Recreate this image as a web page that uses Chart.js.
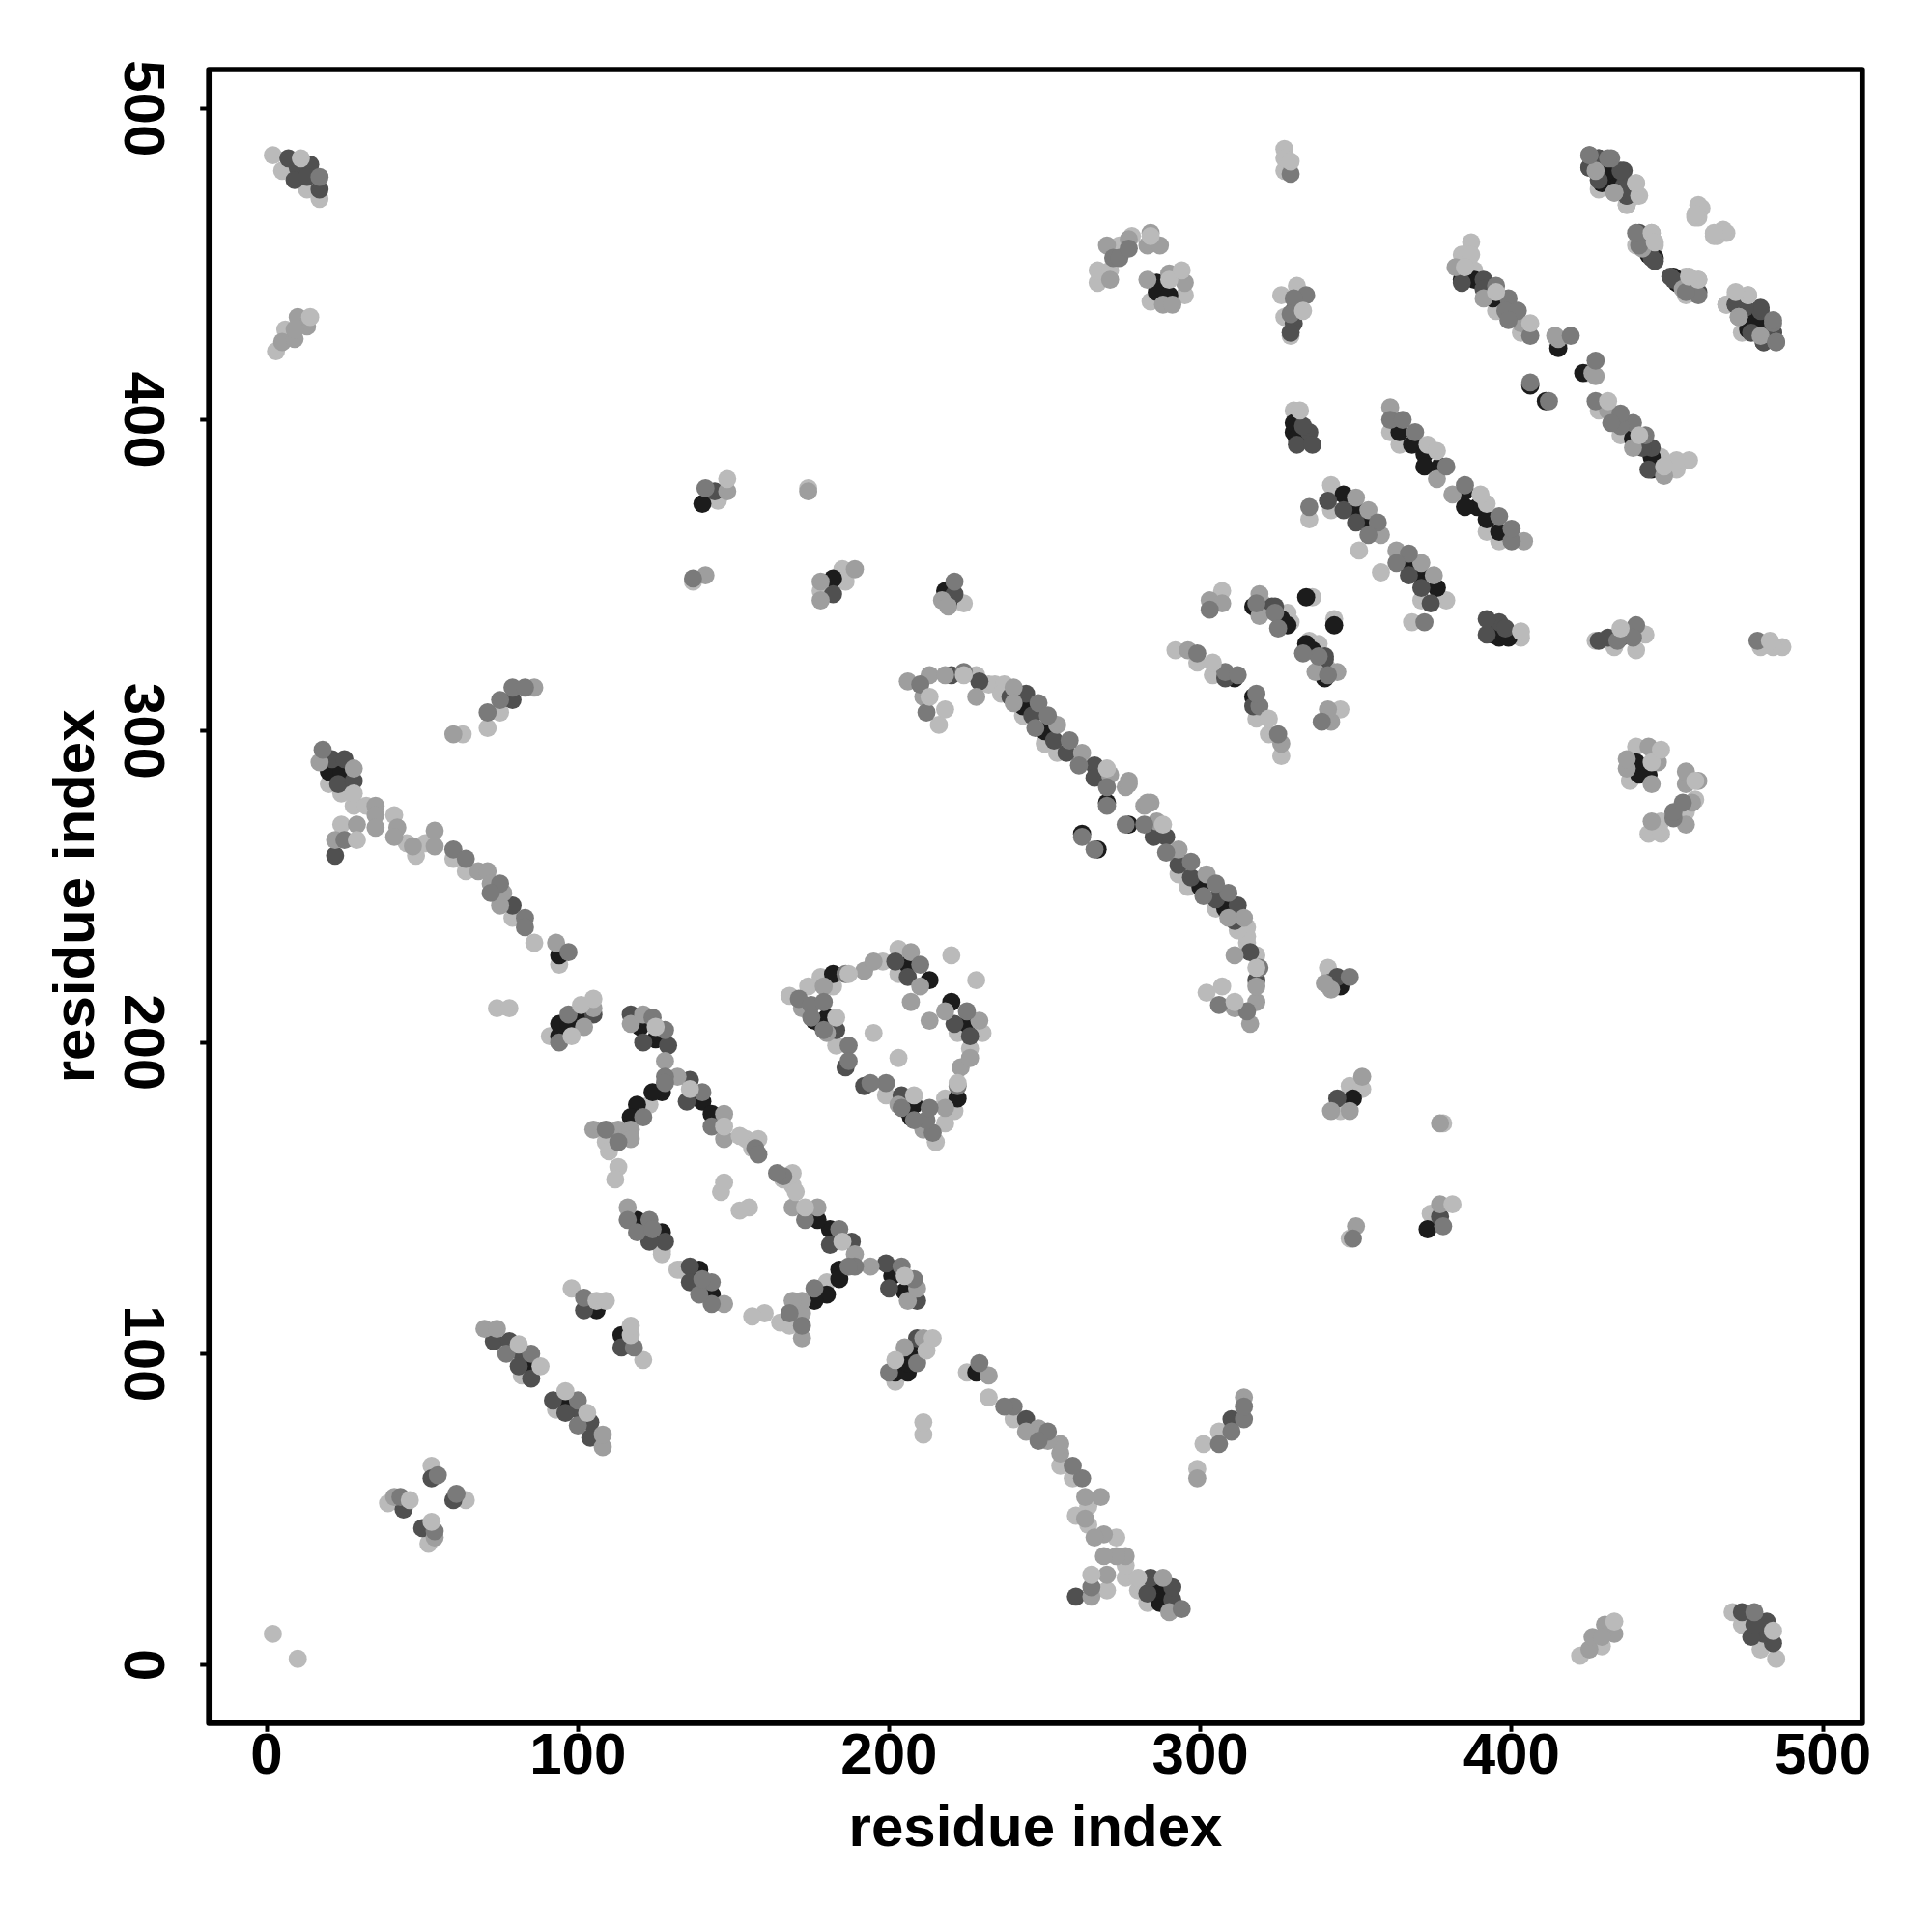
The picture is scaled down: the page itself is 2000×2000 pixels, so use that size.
<!DOCTYPE html>
<html><head><meta charset="utf-8">
<script src="https://cdn.jsdelivr.net/npm/chart.js@4"></script>
<style>html,body{margin:0;padding:0;background:#fff}canvas{display:block}</style>
</head><body><canvas id="c" width="2000" height="2000"></canvas>
<script>
const xTicks=[0,100,200,300,400,500];
const axisTitle="residue index";
const blackUpper=[[140,373],[182,349],[218,345],[219,341],[286,444],[286,441],[290,440],[331,399],[330,396],[330,399],[331,394],[326,336],[328,334],[334,343],[317,340],[321,339],[432,480],[432,477],[446,452],[453,444],[475,434],[476,429],[480,431],[384,445],[388,445],[394,439],[415,423],[406,411],[364,396],[368,392],[372,389],[372,385],[377,385],[346,376],[350,371],[353,367],[243,308],[250,300],[270,277],[262,267],[311,317],[176,207],[182,222],[206,225],[213,220],[180,208],[178,206],[20,287],[24,287],[94,228],[94,202],[94,206],[97,206],[101,209],[120,205],[125,201],[127,184],[124,184],[119,180],[140,181],[117,176],[143,177],[119,143],[127,139],[106,114],[85,96]];
const blackLower=[[373,140],[349,182],[345,218],[341,219],[444,286],[441,286],[440,290],[399,331],[396,330],[399,330],[394,331],[336,326],[334,328],[343,334],[340,317],[339,321],[480,432],[477,432],[452,446],[444,453],[434,475],[429,476],[431,480],[445,384],[445,388],[439,394],[423,415],[411,406],[396,364],[392,368],[389,372],[385,372],[385,377],[376,346],[371,350],[367,353],[308,243],[300,250],[277,270],[267,262],[317,311],[207,176],[222,182],[225,206],[220,213],[208,180],[206,178],[287,20],[287,24],[228,94],[202,94],[206,94],[206,97],[209,101],[205,120],[201,125],[184,127],[184,124],[180,119],[181,140],[176,117],[177,143],[143,119],[139,127],[114,106],[96,85]];
const darkUpper=[[7,484],[10,481],[14,482],[9,477],[13,478],[17,474],[144,377],[182,344],[221,344],[330,435],[330,431],[329,428],[335,396],[331,392],[336,392],[333,398],[323,340],[324,340],[425,481],[428,484],[428,477],[436,480],[436,475],[437,472],[441,460],[446,451],[452,445],[472,437],[480,435],[484,428],[481,425],[384,444],[391,445],[391,442],[341,374],[346,371],[350,367],[220,318],[229,316],[239,311],[244,312],[246,305],[253,297],[257,293],[266,289],[266,285],[308,317],[183,204],[202,226],[206,221],[186,192],[21,291],[25,291],[23,283],[28,284],[79,244],[22,260],[79,310],[105,209],[117,209],[121,200],[129,199],[136,188],[135,181],[123,140],[128,136],[123,136],[102,114],[73,104],[78,104],[82,100],[81,96],[85,92],[44,50],[53,60]];
const darkLower=[[484,7],[481,10],[482,14],[477,9],[478,13],[474,17],[377,144],[344,182],[344,221],[435,330],[431,330],[428,329],[396,335],[392,331],[392,336],[398,333],[340,323],[340,324],[481,425],[484,428],[477,428],[480,436],[475,436],[472,437],[460,441],[451,446],[445,452],[437,472],[435,480],[428,484],[425,481],[444,384],[445,391],[442,391],[374,341],[371,346],[367,350],[318,220],[316,229],[311,239],[312,244],[305,246],[297,253],[293,257],[289,266],[285,266],[317,308],[204,183],[226,202],[221,206],[192,186],[291,21],[291,25],[283,23],[284,28],[244,79],[260,22],[310,79],[209,105],[209,117],[200,121],[199,129],[188,136],[181,135],[140,123],[136,128],[136,123],[114,102],[104,73],[104,78],[100,82],[96,81],[92,85],[50,44],[60,53]];
const greyUpper=[[17,478],[141,378],[137,349],[221,348],[272,452],[274,452],[277,455],[329,479],[334,440],[330,439],[329,434],[335,372],[303,339],[318,341],[324,338],[325,333],[425,485],[432,484],[441,456],[460,440],[484,431],[485,425],[395,443],[399,439],[398,435],[402,435],[399,432],[406,427],[419,427],[406,412],[361,400],[365,400],[369,396],[379,385],[357,367],[354,363],[210,315],[212,306],[224,319],[248,309],[251,305],[247,301],[258,297],[261,289],[270,282],[270,276],[262,266],[299,325],[308,319],[312,318],[171,214],[175,212],[175,208],[179,213],[186,222],[210,225],[187,199],[187,194],[179,204],[18,294],[60,262],[64,259],[75,251],[72,248],[83,240],[83,237],[97,229],[25,265],[71,306],[75,310],[79,314],[83,314],[94,200],[97,209],[124,208],[128,204],[128,189],[128,187],[140,184],[121,176],[143,173],[109,172],[113,168],[157,166],[158,164],[116,143],[123,143],[119,139],[124,140],[102,118],[77,100],[85,100],[43,54],[55,61]];
const greyLower=[[478,17],[378,141],[349,137],[348,221],[452,272],[452,274],[455,277],[479,329],[440,334],[439,330],[434,329],[372,335],[339,303],[341,318],[338,324],[333,325],[485,425],[484,432],[456,441],[440,460],[431,484],[425,485],[443,395],[439,399],[435,398],[435,402],[432,399],[427,406],[427,419],[412,406],[400,361],[400,365],[396,369],[385,379],[367,357],[363,354],[315,210],[306,212],[319,224],[309,248],[305,251],[301,247],[297,258],[289,261],[282,270],[276,270],[266,262],[325,299],[319,308],[318,312],[214,171],[212,175],[208,175],[213,179],[222,186],[225,210],[199,187],[194,187],[204,179],[294,18],[262,60],[259,64],[251,75],[248,72],[240,83],[237,83],[229,97],[265,25],[306,71],[310,75],[314,79],[314,83],[200,94],[209,97],[208,124],[204,128],[189,128],[187,128],[184,140],[176,121],[173,143],[172,109],[168,113],[166,157],[164,158],[143,116],[143,123],[139,119],[140,124],[118,102],[100,77],[100,85],[54,43],[61,55]];
const midUpper=[[5,425],[9,426],[10,433],[13,430],[9,429],[148,377],[141,350],[174,377],[178,348],[178,342],[189,352],[217,342],[219,340],[271,445],[270,456],[277,458],[284,460],[283,456],[287,456],[283,445],[288,437],[291,437],[290,447],[295,444],[303,342],[307,341],[319,344],[319,337],[433,473],[442,455],[456,442],[473,433],[480,427],[382,449],[391,439],[403,431],[415,426],[414,427],[361,404],[376,381],[350,375],[354,371],[358,363],[206,316],[213,318],[211,311],[218,318],[228,311],[240,314],[240,309],[254,302],[262,293],[271,286],[277,284],[276,282],[277,283],[296,326],[172,211],[179,218],[180,203],[192,223],[195,226],[207,229],[210,218],[207,213],[17,290],[28,288],[35,276],[35,273],[35,269],[42,269],[41,266],[47,263],[54,268],[54,263],[68,255],[71,255],[72,251],[76,248],[75,244],[93,232],[29,270],[22,265],[60,299],[86,314],[102,205],[105,211],[117,206],[121,209],[128,194],[132,189],[147,177],[147,169],[113,172],[117,172],[105,172],[117,169],[116,147],[70,108],[74,108],[41,54]];
const midLower=[[425,5],[426,9],[433,10],[430,13],[429,9],[377,148],[350,141],[377,174],[348,178],[342,178],[352,189],[342,217],[340,219],[445,271],[456,270],[458,277],[460,284],[456,283],[456,287],[445,283],[437,288],[437,291],[447,290],[444,295],[342,303],[341,307],[344,319],[337,319],[473,433],[455,442],[442,456],[433,473],[427,480],[449,382],[439,391],[431,403],[426,415],[427,414],[404,361],[381,376],[375,350],[371,354],[363,358],[316,206],[318,213],[311,211],[318,218],[311,228],[314,240],[309,240],[302,254],[293,262],[286,271],[284,277],[282,276],[283,277],[326,296],[211,172],[218,179],[203,180],[223,192],[226,195],[229,207],[218,210],[213,207],[290,17],[288,28],[276,35],[273,35],[269,35],[269,42],[266,41],[263,47],[268,54],[263,54],[255,68],[255,71],[251,72],[248,76],[244,75],[232,93],[270,29],[265,22],[299,60],[314,86],[205,102],[211,105],[206,117],[209,121],[194,128],[189,132],[177,147],[169,147],[172,113],[172,117],[172,105],[169,117],[147,116],[108,70],[108,74],[54,41]];
const lightUpper=[[2,485],[5,480],[13,474],[17,471],[3,422],[6,429],[145,374],[143,376],[137,348],[174,378],[178,345],[185,352],[186,348],[224,341],[267,444],[267,448],[271,448],[274,456],[278,459],[284,438],[295,440],[327,487],[327,480],[327,484],[326,440],[331,443],[327,433],[329,427],[330,403],[335,368],[307,345],[320,341],[328,338],[329,335],[336,343],[429,480],[437,469],[428,474],[461,468],[460,465],[465,459],[469,460],[466,459],[456,446],[460,445],[456,440],[472,440],[469,437],[387,457],[384,453],[388,448],[395,435],[403,428],[415,424],[361,396],[364,392],[342,379],[342,371],[351,358],[216,302],[228,318],[232,315],[234,315],[237,315],[236,312],[243,305],[250,296],[254,293],[292,326],[299,322],[304,318],[168,215],[174,218],[178,221],[198,226],[203,230],[203,222],[220,228],[195,203],[183,199],[182,218],[20,283],[24,280],[28,276],[32,276],[41,273],[45,264],[48,260],[51,264],[60,259],[64,255],[79,240],[86,232],[94,225],[24,270],[63,299],[71,301],[75,306],[74,211],[78,211],[91,202],[123,180],[109,168],[110,165],[113,160],[154,169],[156,166],[158,169],[112,156],[147,155],[146,152],[127,132],[127,133],[98,121],[82,93],[39,52],[53,64],[2,10]];
const lightLower=[[485,2],[480,5],[474,13],[471,17],[422,3],[429,6],[374,145],[376,143],[348,137],[378,174],[345,178],[352,185],[348,186],[341,224],[444,267],[448,267],[448,271],[456,274],[459,278],[438,284],[440,295],[487,327],[480,327],[484,327],[440,326],[443,331],[433,327],[427,329],[403,330],[368,335],[345,307],[341,320],[338,328],[335,329],[343,336],[480,429],[469,437],[474,428],[468,461],[465,460],[459,465],[460,469],[459,466],[446,456],[445,460],[440,456],[440,472],[437,469],[457,387],[453,384],[448,388],[435,395],[428,403],[424,415],[396,361],[392,364],[379,342],[371,342],[358,351],[302,216],[318,228],[315,232],[315,234],[315,237],[312,236],[305,243],[296,250],[293,254],[326,292],[322,299],[318,304],[215,168],[218,174],[221,178],[226,198],[230,203],[222,203],[228,220],[203,195],[199,183],[218,182],[283,20],[280,24],[276,28],[276,32],[273,41],[264,45],[260,48],[264,51],[259,60],[255,64],[240,79],[232,86],[225,94],[270,24],[299,63],[301,71],[306,75],[211,74],[211,78],[202,91],[180,123],[168,109],[165,110],[160,113],[169,154],[166,156],[169,158],[156,112],[155,147],[152,146],[132,127],[133,127],[121,98],[93,82],[52,39],[64,53],[10,2]];
const capUpper=[[11,484],[148,381],[14,433],[284,459],[290,445],[294,448],[329,483],[333,435],[332,403],[440,476],[441,472],[445,460],[446,457],[476,440],[387,453],[385,449],[395,441],[406,431],[373,392],[376,390],[224,318],[213,311],[218,307],[304,322],[187,222],[183,208],[28,280],[29,265],[125,205],[136,185],[147,173],[101,212],[105,214],[98,202],[270,288],[46,53],[88,96],[81,103],[106,117],[109,117],[152,170]];
const capLower=[[484,11],[381,148],[433,14],[459,284],[445,290],[448,294],[483,329],[435,333],[403,332],[476,440],[472,441],[460,445],[457,446],[440,476],[453,387],[449,385],[441,395],[431,406],[392,373],[390,376],[318,224],[311,213],[307,218],[322,304],[222,187],[208,183],[280,28],[265,29],[205,125],[185,136],[173,147],[212,101],[214,105],[202,98],[288,270],[53,46],[96,88],[103,81],[117,106],[117,109],[170,152]];

const toPts=a=>a.map(p=>({x:p[0],y:p[1]}));
const layers=[
  {data:lightUpper.concat(lightLower),color:'#bababa'},
  {data:blackUpper.concat(blackLower),color:'#1c1c1c'},
  {data:darkUpper.concat(darkLower),color:'#505050'},
  {data:midUpper.concat(midLower),color:'#9e9e9e'},
  {data:greyUpper.concat(greyLower),color:'#7a7a7a'},
  {data:capUpper.concat(capLower),color:'#bababa'}
];
const fontSpec={family:"'Liberation Sans',Arial,sans-serif",weight:'bold',size:60,lineHeight:1};
const frame={id:'frame',afterDraw(ch){const a=ch.chartArea,c=ch.ctx;c.save();c.strokeStyle='#000';c.lineWidth=5.7;c.lineJoin='round';c.strokeRect(a.left,a.top,a.right-a.left,a.bottom-a.top);c.restore();}};
const tickFilter=s=>{s.ticks=xTicks.map(v=>({value:v,label:String(v)}));};
new Chart(document.getElementById('c'),{
  type:'scatter',
  data:{datasets:layers.map((l,i)=>({data:toPts(l.data),backgroundColor:l.color,borderWidth:0,pointRadius:9.4,pointHoverRadius:9.4,order:layers.length-i,clip:false}))},
  plugins:[frame],
  options:{
    responsive:false,animation:false,events:[],
    layout:{padding:{top:72,right:72.2,left:0,bottom:0}},
    plugins:{legend:{display:false},tooltip:{enabled:false},title:{display:false}},
    scales:{
      x:{type:'linear',position:'bottom',min:-18.56,max:512.66,
        afterFit(s){s.height=216.2;},afterBuildTicks:tickFilter,
        border:{display:false},
        grid:{drawOnChartArea:false,drawTicks:true,tickLength:9,tickWidth:4,tickColor:'#000'},
        ticks:{color:'#000',font:fontSpec,padding:-3,maxRotation:0,minRotation:0,autoSkip:false},
        title:{display:true,text:axisTitle,color:'#000',font:fontSpec,padding:{top:0,bottom:75.5}}},
      y:{type:'linear',position:'left',min:-18.65,max:512.5,
        afterFit(s){s.width=216.2;},afterBuildTicks:tickFilter,
        border:{display:false},
        grid:{drawOnChartArea:false,drawTicks:true,tickLength:9,tickWidth:4,tickColor:'#000'},
        ticks:{color:'#000',font:fontSpec,padding:11.5,minRotation:-90,maxRotation:-90,crossAlign:'center',autoSkip:false},
        title:{display:true,text:axisTitle,color:'#000',font:fontSpec,padding:{top:50.3,bottom:0}}}
    }
  }
});
</script></body></html>
